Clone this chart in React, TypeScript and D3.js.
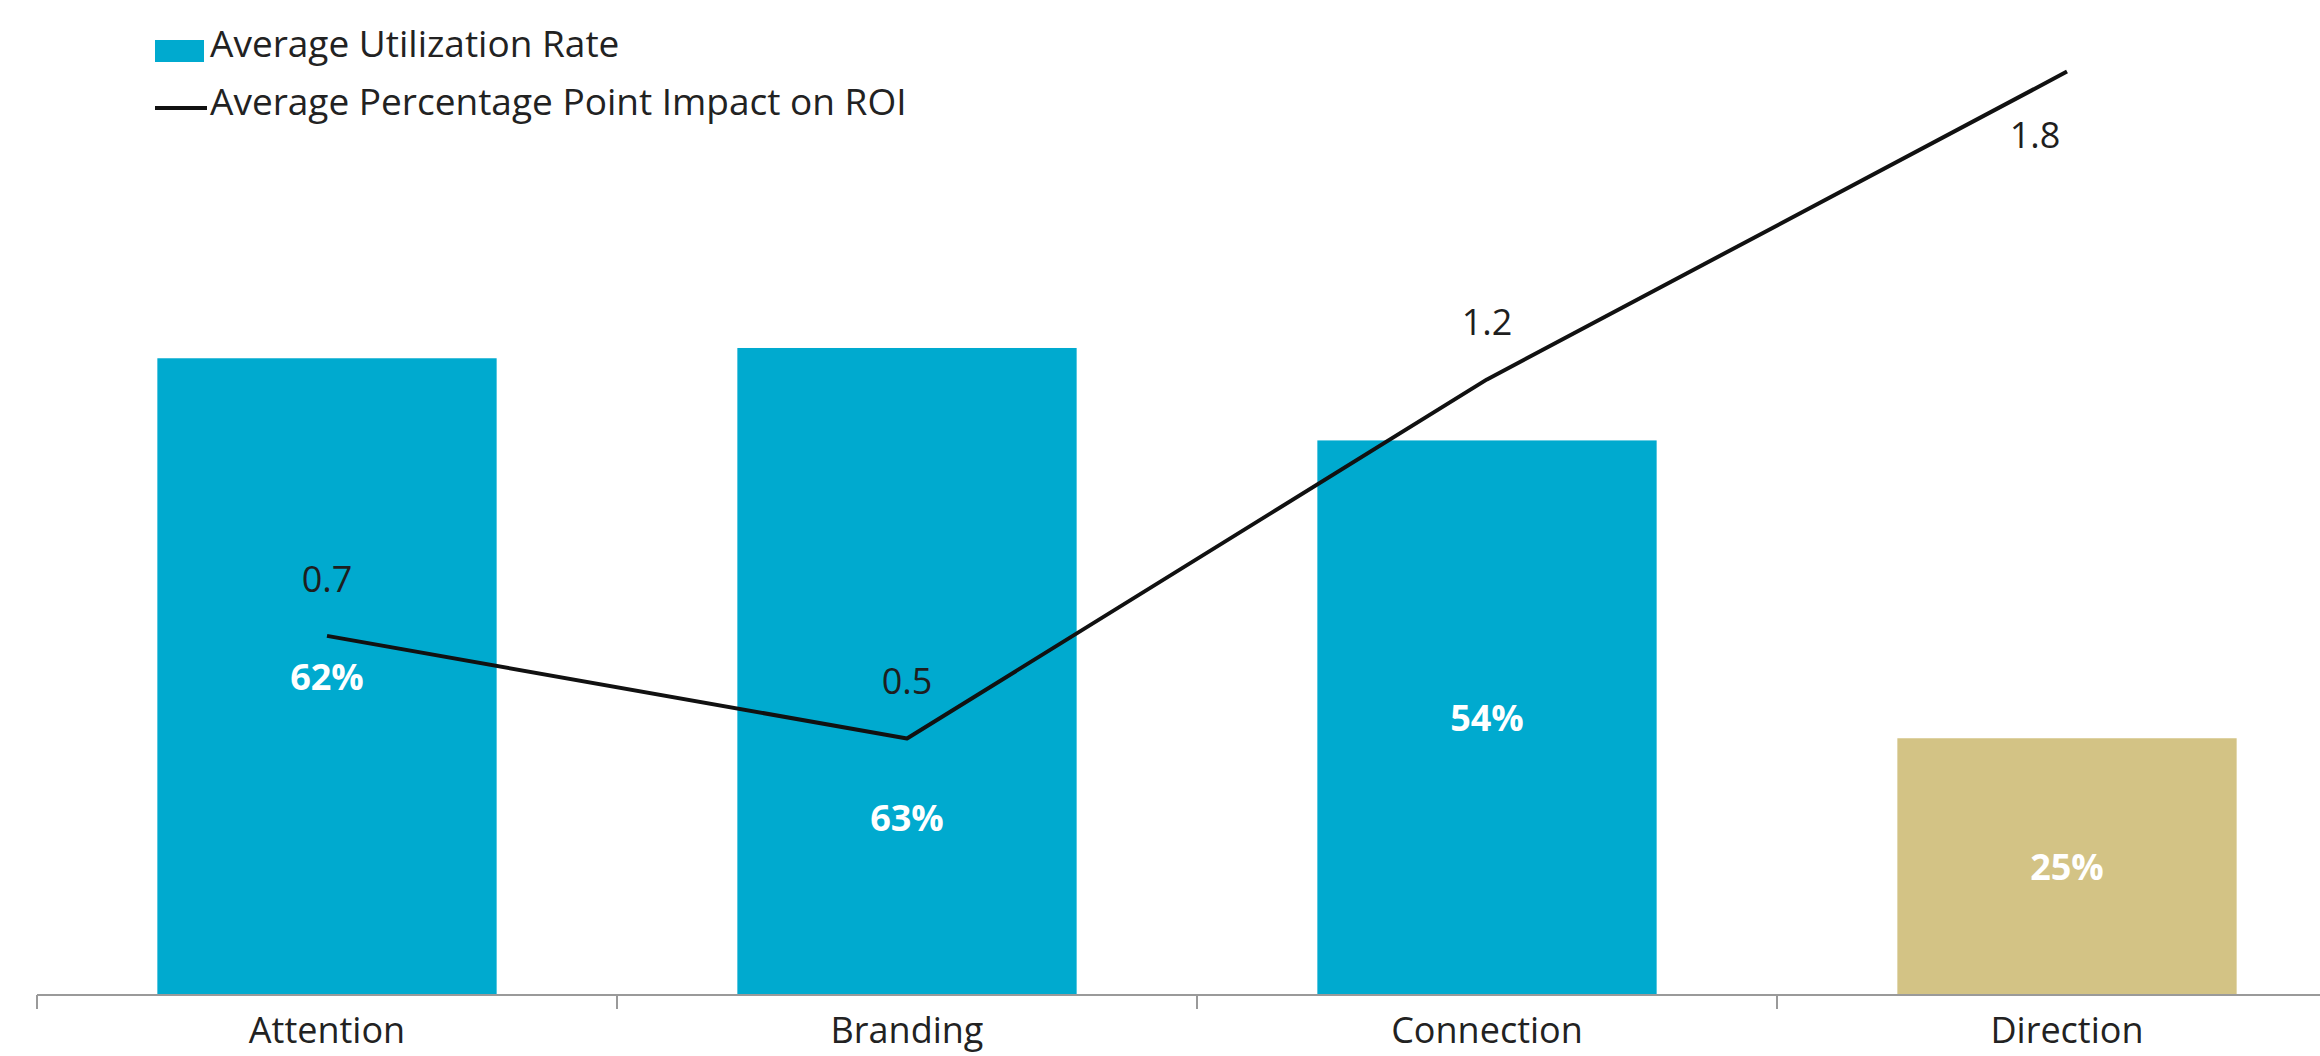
import React from "react";
import * as d3 from "d3";

const categories = ["Attention", "Branding", "Connection", "Direction"];
const utilization = [62, 63, 54, 25];
const roiImpact = [0.7, 0.5, 1.2, 1.8];
const barColors = ["#00aacf", "#00aacf", "#00aacf", "#d3c385"];
const legendLabels = ["Average Utilization Rate", "Average Percentage Point Impact on ROI"];

const W = 2320;
const H = 1056;
const baseY = 995;
const FONT = "'Open Sans', sans-serif";

export default function App() {
  const x = d3
    .scaleBand<string>()
    .domain(categories)
    .range([37, 2357])
    .paddingInner(0.415)
    .paddingOuter(0.2075);
  const step = x.step();
  const yBar = d3.scaleLinear().domain([0, 100]).range([baseY, baseY - 1027]);
  const yLine = d3.scaleLinear().domain([0, 1]).range([baseY, baseY - 513]);
  const cx = (c: string) => (x(c) as number) + x.bandwidth() / 2;

  const lineGen = d3
    .line<number>()
    .x((_, i) => cx(categories[i]))
    .y((d) => yLine(d));

  const axisStart = 37;
  const boundaries = categories.map((_, i) => axisStart + i * step);

  return (
    <svg
      width={W}
      height={H}
      style={{ position: "absolute", left: 0, top: 0, background: "#fff" }}
      fontFamily={FONT}
    >
      {/* bars */}
      {categories.map((c, i) => (
        <rect
          key={c}
          x={x(c)}
          y={yBar(utilization[i])}
          width={x.bandwidth()}
          height={baseY - yBar(utilization[i])}
          fill={barColors[i]}
        />
      ))}

      {/* axis */}
      <line x1={axisStart} x2={W} y1={baseY} y2={baseY} stroke="#9a9a9a" strokeWidth={2} />
      {boundaries.map((bx, i) => (
        <line key={i} x1={bx} x2={bx} y1={baseY} y2={baseY + 14} stroke="#9a9a9a" strokeWidth={2} />
      ))}
      {categories.map((c) => (
        <text
          key={c}
          x={cx(c)}
          y={1043}
          textAnchor="middle"
          fontSize={36}
          fill="#222"
        >
          {c}
        </text>
      ))}

      {/* bar labels */}
      {categories.map((c, i) => {
        const mid = (yBar(utilization[i]) + baseY) / 2;
        const ly = yLine(roiImpact[i]);
        const labelY = ly > mid - 30 ? ly + 80 : mid;
        return (
          <text
            key={c}
            x={cx(c)}
            y={labelY}
            dy="0.36em"
            textAnchor="middle"
            fontSize={36}
            fontWeight={700}
            fill="#fff"
          >
            {utilization[i]}%
          </text>
        );
      })}

      {/* line */}
      <path d={lineGen(roiImpact) || ""} fill="none" stroke="#111" strokeWidth={4} strokeLinejoin="round" />

      {/* line labels */}
      {categories.map((c, i) => {
        const py = yLine(roiImpact[i]);
        const below = py - 57 < 100;
        return (
          <text
            key={c}
            x={cx(c) - (below ? 32 : 0)}
            y={below ? py + 63 : py - 57}
            dy="0.36em"
            textAnchor="middle"
            fontSize={36}
            fill="#1e1e1e"
          >
            {roiImpact[i].toFixed(1)}
          </text>
        );
      })}

      {/* legend */}
      <rect x={155} y={40} width={49} height={22} fill={barColors[0]} />
      <text x={210} y={57} fontSize={37} fill="#222">
        {legendLabels[0]}
      </text>
      <line x1={155} x2={207} y1={108} y2={108} stroke="#111" strokeWidth={4} />
      <text x={210} y={115} fontSize={37} fill="#222">
        {legendLabels[1]}
      </text>
    </svg>
  );
}
